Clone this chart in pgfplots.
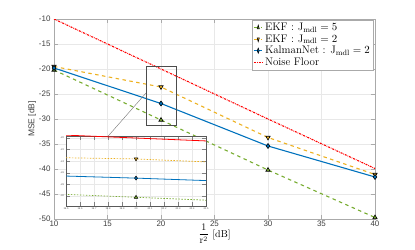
\documentclass[border=0pt]{standalone}
\usepackage{fontspec}
\usepackage{pgfplots}
\pgfplotsset{compat=1.18}
\newfontfamily\ticksans{Liberation Sans}
\definecolor{mgreen}{RGB}{119,172,48}
\definecolor{morange}{RGB}{237,177,32}
\definecolor{mblue}{RGB}{0,114,189}
\definecolor{mred}{RGB}{255,0,0}
\definecolor{axgray}{RGB}{170,170,170}
\definecolor{gridgray}{RGB}{232,232,232}
\begin{document}
\begin{tikzpicture}
\path[use as bounding box] (-54bp,-31bp) rectangle (361bp,219bp);
\begin{axis}[
  name=main,
  at={(0,0)}, anchor=south west,
  scale only axis, width=321bp, height=200bp,
  xmin=10, xmax=40, ymin=-50, ymax=-10,
  xtick={10,15,...,40}, ytick={-50,-45,...,-10},
  grid=major, major grid style={gridgray, line width=0.4pt},
  axis line style={axgray, line width=0.6pt},
  tick style={axgray, line width=0.5pt},
  tick align=inside,
  ticklabel style={font=\ticksans\fontsize{8}{9}\selectfont, text=black!75},
  xticklabel style={yshift=2bp},
  /pgf/number format/assume math mode=true,
  xlabel={$\displaystyle\frac{1}{\mathrm{r}^2}$ [dB]},
  xlabel style={font=\fontsize{10}{11}\selectfont, yshift=9bp},
  ylabel={MSE [dB]},
  ylabel style={font=\ticksans\fontsize{8.5}{9}\selectfont, text=black!75, yshift=-4bp},
  legend style={at={(rel axis cs:0.994,0.995)}, anchor=north east,
    font=\fontsize{11}{12}\selectfont, draw=axgray, inner sep=1pt,
    row sep=-1.5pt, legend cell align=left},
  legend image post style={xscale=0.5},
]
\addplot[mgreen, line width=1.1pt, dash pattern=on 3.5pt off 3.5pt,
  mark=triangle*, mark size=2.5pt, mark options={solid, line width=0.6pt, draw=black, fill=mgreen}]
  coordinates {(10,-20.2) (20,-30.2) (30,-40.2) (40,-49.7)};
\addlegendentry{EKF : $\mathrm{J}_{\mathrm{mdl}}=5$}
\addplot[morange, line width=1.1pt, dash pattern=on 3.5pt off 3.5pt,
  mark=triangle*, mark size=2.5pt, mark options={solid, line width=0.6pt, rotate=180, draw=black, fill=morange}]
  coordinates {(10,-19.5) (20,-23.6) (30,-33.7) (40,-41.1)};
\addlegendentry{EKF : $\mathrm{J}_{\mathrm{mdl}}=2$}
\addplot[mblue, line width=1.1pt,
  mark=diamond*, mark size=2.5pt, mark options={solid, line width=0.6pt, draw=black, fill=mblue}]
  coordinates {(10,-19.8) (20,-26.9) (30,-35.4) (40,-41.6)};
\addlegendentry{KalmanNet : $\mathrm{J}_{\mathrm{mdl}}=2$}
\addplot[mred, line width=1.1pt, dash pattern=on 2pt off 1pt on 0.6pt off 1pt]
  coordinates {(10,-10) (20,-20) (30,-30) (40,-39.9)};
\addlegendentry{Noise Floor}
\draw[black!70, line width=0.6pt] (axis cs:18.6,-19.4) rectangle (axis cs:21.4,-31.3);
\draw[black!55, line width=0.4pt] (axis cs:15.07,-33.4) -- (axis cs:18.6,-24.8);
\end{axis}
\begin{axis}[
  at={(12bp,13bp)}, anchor=south west,
  scale only axis, width=140bp, height=70bp,
  xmin=19.5, xmax=20.5, ymin=-31.7, ymax=-19.65,
  xtick={19.5,19.6,...,20.51}, ytick={-30,-28,...,-20},
  axis background/.style={fill=white},
  grid=major, major grid style={gridgray, line width=0.3pt},
  axis line style={black!65, line width=0.6pt},
  tick style={black!50, line width=0.3pt},
  tick align=inside,
  ticklabel style={font=\ticksans\fontsize{2.5}{3}\selectfont, text=black!70},
  xticklabel style={yshift=1.5bp},
  yticklabel style={xshift=1.5bp},
  /pgf/number format/fixed, /pgf/number format/precision=1,
  /pgf/number format/assume math mode=true,
  clip=true,
]
\addplot[mgreen, line width=0.7pt, dash pattern=on 1.5pt off 1.5pt,
  mark=triangle*, mark size=2pt, mark options={solid, line width=0.5pt, draw=black, fill=mgreen}]
  coordinates {(10,-20.2) (20,-30.2) (30,-40.2) (40,-49.7)};
\addplot[morange, line width=0.7pt, dash pattern=on 1.5pt off 1.5pt,
  mark=triangle*, mark size=2pt, mark options={solid, line width=0.5pt, rotate=180, draw=black, fill=morange}]
  coordinates {(10,-19.5) (20,-23.6) (30,-33.7) (40,-41.1)};
\addplot[mblue, line width=0.8pt,
  mark=diamond*, mark size=2pt, mark options={solid, line width=0.5pt, draw=black, fill=mblue}]
  coordinates {(10,-19.8) (20,-26.9) (30,-35.4) (40,-41.6)};
\addplot[mred, line width=0.8pt]
  coordinates {(10,-10) (20,-20) (30,-30) (40,-39.9)};
\end{axis}
\end{tikzpicture}
\end{document}
